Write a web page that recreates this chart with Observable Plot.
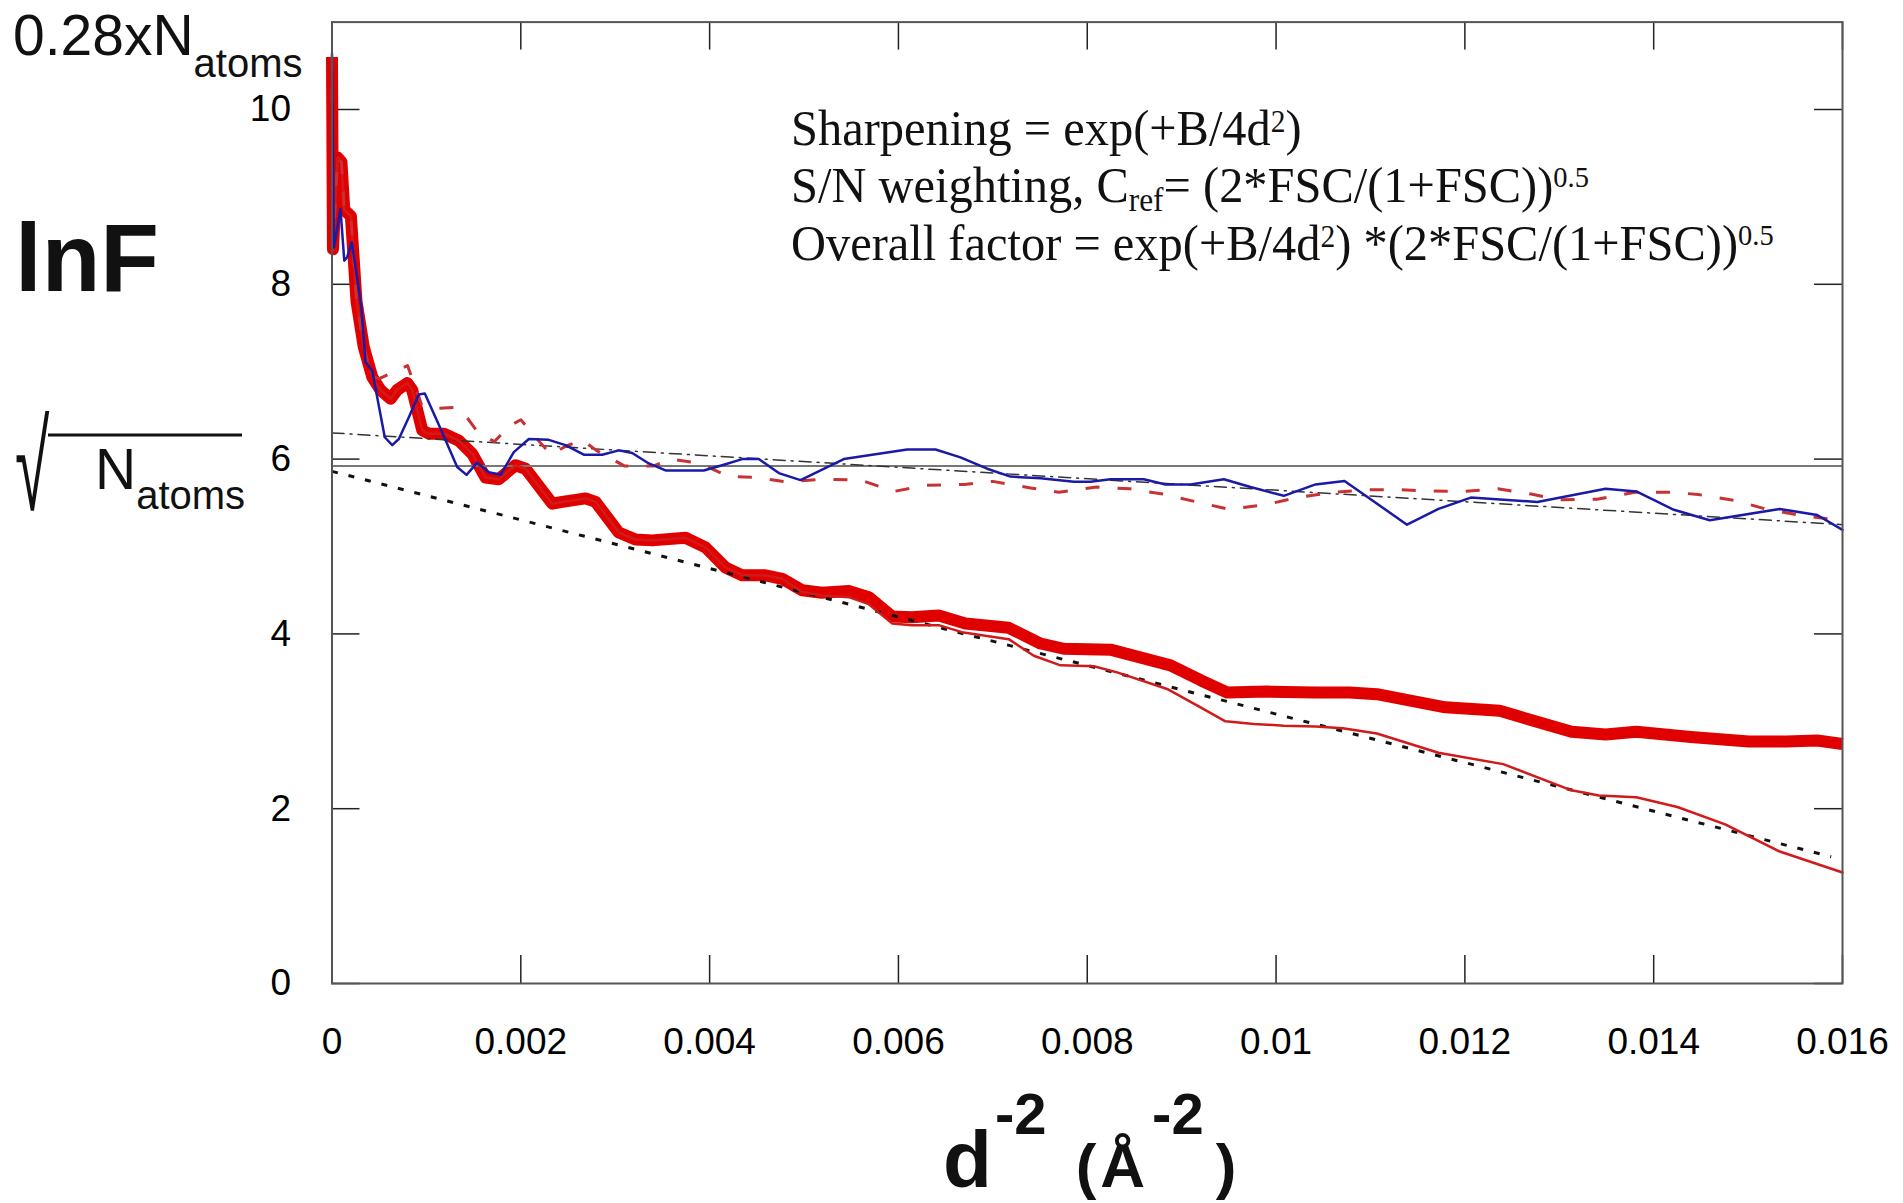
<!DOCTYPE html>
<html><head><meta charset="utf-8">
<script src="https://cdn.jsdelivr.net/npm/d3@7"></script>
<script src="https://cdn.jsdelivr.net/npm/@observablehq/plot@0.6"></script>
<style>html,body{margin:0;padding:0;background:#fff;overflow:hidden}</style>
</head><body><div id="chart"></div>
<script>
// ---- tick values ----
const xTicks = [0, 0.002, 0.004, 0.006, 0.008, 0.01, 0.012, 0.014, 0.016];
const yTicks = [0, 2, 4, 6, 8, 10];

// ---- reference levels ----
const refLevel = [5.92];                       // horizontal solid line
const flatFit = [[0, 6.30], [0.016, 5.25]];    // dash-dot straight line
const steepFit = [[0, 5.86], [0.01588, 1.45]]; // dotted straight line

// ---- thick red curve ----
const thickRed = [
  [0, 10.6], [0.00001, 8.4], [0.00006, 9.45], [0.0001, 9.4], [0.00013, 8.85], [0.0002, 8.78],
  [0.00026, 7.8], [0.000337, 7.28], [0.000426, 6.94], [0.000514, 6.79], [0.00062, 6.69],
  [0.00069, 6.79], [0.000797, 6.87], [0.00085, 6.79], [0.000956, 6.33], [0.001027, 6.29],
  [0.001186, 6.29], [0.001345, 6.21], [0.001486, 6.06], [0.001626, 5.79], [0.001767, 5.77],
  [0.001944, 5.93], [0.00205, 5.89], [0.002333, 5.49], [0.002439, 5.51], [0.002686, 5.55],
  [0.002792, 5.51], [0.003038, 5.16], [0.003215, 5.08], [0.003392, 5.07], [0.003744, 5.10],
  [0.003956, 4.99], [0.004168, 4.76], [0.004345, 4.67], [0.004592, 4.67], [0.004768, 4.63],
  [0.00498, 4.50], [0.005191, 4.47], [0.005474, 4.49], [0.005686, 4.42], [0.005932, 4.20],
  [0.006144, 4.19], [0.006427, 4.21], [0.006709, 4.12], [0.007168, 4.07], [0.007505, 3.89],
  [0.007752, 3.83], [0.008246, 3.82], [0.008529, 3.74], [0.008882, 3.64], [0.0092, 3.47],
  [0.009482, 3.33], [0.009906, 3.34], [0.010418, 3.33], [0.010779, 3.33], [0.011068, 3.31],
  [0.011792, 3.16], [0.01237, 3.12], [0.01313, 2.88], [0.013491, 2.85], [0.013816, 2.88],
  [0.014394, 2.82], [0.015008, 2.77], [0.015407, 2.77], [0.015732, 2.78], [0.016, 2.74]
];

// ---- thin red curve (tail where it separates from the thick one) ----
const thinRedTail = [
  [0.00498, 4.48], [0.005191, 4.44], [0.005474, 4.42], [0.005686, 4.34], [0.005932, 4.12],
  [0.006144, 4.10], [0.006427, 4.10], [0.006673, 4.02], [0.007168, 3.94], [0.007434, 3.75],
  [0.007717, 3.64], [0.00807, 3.63], [0.008317, 3.56], [0.008846, 3.37], [0.0092, 3.16],
  [0.009464, 3.00], [0.009764, 2.97], [0.010082, 2.95], [0.010418, 2.94], [0.010707, 2.92],
  [0.011068, 2.86], [0.01172, 2.64], [0.012406, 2.51], [0.01313, 2.21], [0.013419, 2.15],
  [0.013816, 2.13], [0.014251, 2.02], [0.014757, 1.82], [0.015335, 1.51], [0.016, 1.27]
];

// ---- dashed red curve ----
const dashedRed = [
  [0, 10.6], [0.00001, 8.4], [0.00006, 9.45], [0.0001, 9.4], [0.00013, 8.85], [0.0002, 8.78],
  [0.00026, 7.8], [0.000337, 7.28], [0.00042, 6.95], [0.0005, 6.92], [0.0008, 7.07],
  [0.00095, 6.62], [0.0011, 6.58], [0.0013, 6.59], [0.0014, 6.52], [0.00155, 6.30],
  [0.00172, 6.20], [0.00188, 6.38], [0.002, 6.45], [0.00218, 6.22], [0.00232, 6.05],
  [0.00248, 6.15], [0.00265, 6.22], [0.0028, 6.10], [0.0031, 5.92], [0.0034, 5.92],
  [0.0036, 6.00], [0.0039, 5.95], [0.0042, 5.80], [0.0045, 5.79], [0.0048, 5.74],
  [0.0052, 5.77], [0.0056, 5.76], [0.00595, 5.63], [0.0063, 5.70], [0.0067, 5.71],
  [0.007, 5.745], [0.0074, 5.67], [0.0077, 5.62], [0.0081, 5.68], [0.00845, 5.66],
  [0.0088, 5.60], [0.0092, 5.50], [0.0095, 5.425], [0.0099, 5.48], [0.0102, 5.555],
  [0.0106, 5.62], [0.011, 5.65], [0.0113, 5.65], [0.0116, 5.635], [0.012, 5.63],
  [0.01235, 5.66], [0.0127, 5.60], [0.013, 5.535], [0.0134, 5.54], [0.0138, 5.62],
  [0.0142, 5.62], [0.01447, 5.595], [0.01487, 5.525], [0.0152, 5.425], [0.01557, 5.355],
  [0.0159, 5.31], [0.016, 5.30]
];

// ---- blue curve ----
const blue = [
  [0, 10.64], [0.00002, 8.42], [0.00009, 8.86], [0.00013, 8.27], [0.00016, 8.31], [0.00021, 8.48],
  [0.00031, 7.75], [0.000355, 7.11], [0.000426, 7.01], [0.000559, 6.25], [0.000638, 6.16],
  [0.000708, 6.23], [0.000814, 6.48], [0.000919, 6.74], [0.000983, 6.75], [0.001149, 6.35],
  [0.001326, 5.91], [0.001425, 5.82], [0.001538, 5.96], [0.001661, 5.85], [0.001785, 5.82],
  [0.001926, 6.08], [0.002085, 6.23], [0.002296, 6.22], [0.002473, 6.16], [0.002667, 6.05],
  [0.002862, 6.05], [0.003038, 6.10], [0.00318, 6.07], [0.003356, 5.95], [0.003533, 5.87],
  [0.003745, 5.87], [0.003938, 5.87], [0.004133, 5.93], [0.004345, 6.00], [0.004521, 6.00],
  [0.004733, 5.84], [0.004963, 5.76], [0.005421, 6.00], [0.006093, 6.11], [0.006393, 6.11],
  [0.006657, 6.02], [0.00694, 5.89], [0.007187, 5.80], [0.007505, 5.78], [0.007858, 5.74],
  [0.008034, 5.74], [0.008246, 5.77], [0.008599, 5.77], [0.008829, 5.71], [0.009094, 5.71],
  [0.009447, 5.77], [0.009729, 5.68], [0.010082, 5.58], [0.010418, 5.71], [0.010725, 5.75],
  [0.011387, 5.25], [0.01172, 5.43], [0.012063, 5.56], [0.012767, 5.51], [0.013491, 5.66],
  [0.013816, 5.63], [0.014214, 5.42], [0.014594, 5.30], [0.015335, 5.43], [0.015732, 5.36],
  [0.016, 5.19]
];

const thinRed = thickRed.filter(d => d[0] < 0.0049).concat(thinRedTail);

// ---- texts ----
const yTopLabel = ["0.28xN", "atoms"];
const yMainLabel = "lnF";
const ySqrtLabel = ["√", "N", "atoms"];
const note1 = ["Sharpening = exp(+B/4d", "2", ")"];
const note2 = ["S/N weighting, C", "ref", "= (2*FSC/(1+FSC))", "0.5"];
const note3 = ["Overall factor = exp(+B/4d", "2", ") *(2*FSC/(1+FSC))", "0.5"];
const xTitle = ["d", "-2", " (Å", "-2", ")"];

const W = 1903, H = 1203;
const mL = 331.5, mR = 61, mT = 21.6, mB = 220;
const frameW = W - mL - mR, frameH = H - mT - mB;
const TL = 28;
const sans = "'Liberation Sans', Arial, Helvetica, sans-serif";
const serif = "'Liberation Serif', 'Times New Roman', serif";
const px = d => d[0], py = d => d[1];

const chart = Plot.plot({
  width: W, height: H,
  marginLeft: mL, marginRight: mR, marginTop: mT, marginBottom: mB,
  x: {domain: [0, 0.016], label: null},
  y: {domain: [0, 11], label: null},
  style: {background: "white", color: "black", fontFamily: sans, fontSize: "37px"},
  marks: [
    Plot.axisX(xTicks, {tickSize: 0, tickPadding: 44, tickFormat: d3.format("~g"), fontSize: 37, label: null}),
    Plot.axisY(yTicks, {tickSize: 0, tickPadding: 41, tickFormat: d3.format("~g"), fontSize: 37, label: null}),
    Plot.tickX(xTicks, {x: d => d, insetTop: frameH - TL, stroke: "#222", strokeWidth: 1.5}),
    Plot.tickX(xTicks, {x: d => d, insetBottom: frameH - TL, stroke: "#222", strokeWidth: 1.5}),
    Plot.tickY(yTicks, {y: d => d, insetRight: frameW - TL, stroke: "#222", strokeWidth: 1.5}),
    Plot.tickY(yTicks, {y: d => d, insetLeft: frameW - TL, stroke: "#222", strokeWidth: 1.5}),
    Plot.line(thickRed, {x: px, y: py, stroke: "#e00000", strokeWidth: 12, strokeLinejoin: "round", strokeLinecap: "butt"}),
    Plot.ruleY(refLevel, {stroke: "#777", strokeWidth: 2}),
    Plot.line(flatFit, {x: px, y: py, stroke: "#333", strokeWidth: 1.5, strokeDasharray: "12,6,2,6"}),
    Plot.line(steepFit, {x: px, y: py, stroke: "#111", strokeWidth: 3, strokeDasharray: "6,11", strokeLinecap: "butt"}),
    Plot.line(thinRed, {x: px, y: py, stroke: "#d21a1a", strokeWidth: 2.5}),
    Plot.line(dashedRed, {x: px, y: py, stroke: "#c83232", strokeWidth: 3, strokeDasharray: "14,18", strokeLinecap: "butt"}),
    Plot.line(blue, {x: px, y: py, stroke: "#1a1aa6", strokeWidth: 2.5}),
    Plot.frame({stroke: "#555", strokeWidth: 2})
  ]
});
document.getElementById("chart").appendChild(chart);

// ---- extra labels ----
const svg = d3.select(chart);
const g = svg.append("g").attr("fill", "#111").attr("text-anchor", "start").style("white-space", "pre");

const t1 = g.append("text").attr("x", 13).attr("y", 55).style("font-family", sans).style("font-size", "57px");
t1.append("tspan").text(yTopLabel[0]);
t1.append("tspan").attr("dy", 22).style("font-size", "40px").text(yTopLabel[1]);

g.append("text").attr("x", 15).attr("y", 291).style("font-family", sans).style("font-size", "96px")
  .style("font-weight", "bold").text(yMainLabel);

g.append("text").attr("transform", "translate(15,510) scale(0.5,1)").style("font-family", sans)
  .style("font-size", "125px").text(ySqrtLabel[0]);
g.append("line").attr("x1", 48).attr("x2", 242).attr("y1", 435).attr("y2", 435).attr("stroke", "#111").attr("stroke-width", 3);
const t3 = g.append("text").attr("x", 95).attr("y", 489).style("font-family", sans).style("font-size", "57px");
t3.append("tspan").text(ySqrtLabel[1]);
t3.append("tspan").attr("dy", 20).style("font-size", "40px").text(ySqrtLabel[2]);

function noteLine(y) {
  return g.append("text").attr("transform", `translate(791,${y}) scale(0.95,1)`)
    .style("font-family", serif).style("font-size", "51px");
}
const n1 = noteLine(144.7);
n1.append("tspan").text(note1[0]);
n1.append("tspan").attr("dy", -13).style("font-size", "31px").text(note1[1]);
n1.append("tspan").attr("dy", 13).text(note1[2]);

const n2 = noteLine(202);
n2.append("tspan").text(note2[0]);
n2.append("tspan").attr("dy", 9).style("font-size", "33px").text(note2[1]);
n2.append("tspan").attr("dy", -9).text(note2[2]);
n2.append("tspan").attr("dy", -15).style("font-size", "30px").text(note2[3]);

const n3 = noteLine(259.5);
n3.append("tspan").text(note3[0]);
n3.append("tspan").attr("dy", -13).style("font-size", "31px").text(note3[1]);
n3.append("tspan").attr("dy", 13).text(note3[2]);
n3.append("tspan").attr("dy", -15).style("font-size", "30px").text(note3[3]);

const xt = g.append("text").attr("x", 943).attr("y", 1187).style("font-family", sans).style("font-weight", "bold");
xt.append("tspan").style("font-size", "80px").text(xTitle[0]);
xt.append("tspan").attr("dy", -53).attr("dx", 3).style("font-size", "58px").text(xTitle[1]);
xt.append("tspan").attr("dy", 53).attr("dx", 8).style("font-size", "62px").style("letter-spacing", "4px").text(xTitle[2]);
xt.append("tspan").attr("dy", -53).attr("dx", 3).style("font-size", "58px").text(xTitle[3]);
xt.append("tspan").attr("dy", 53).attr("dx", 12).style("font-size", "62px").text(xTitle[4]);
</script>
</body></html>
